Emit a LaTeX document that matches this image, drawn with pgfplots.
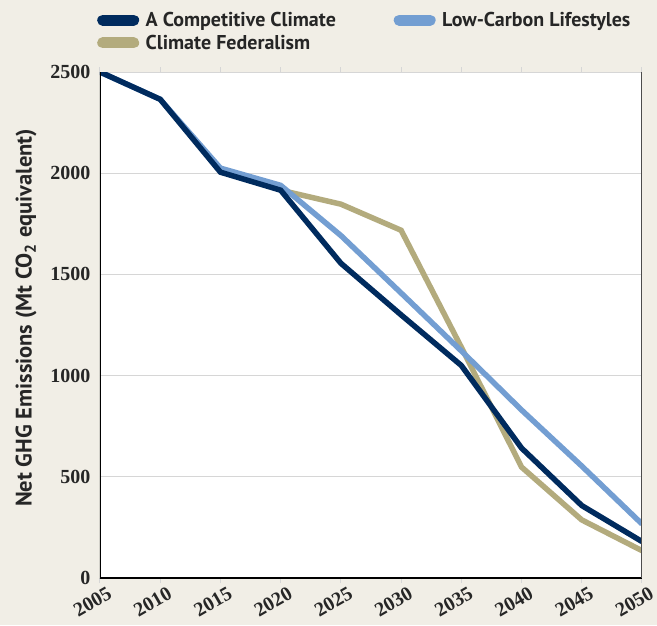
\documentclass[border=0pt]{standalone}
\usepackage{pgfplots}
\pgfplotsset{compat=1.18}
\usepackage{fontspec}
\setmainfont{Liberation Serif}
\newfontfamily\labfont{PT Sans}

\definecolor{bgcol}{RGB}{241,238,230}
\definecolor{navy}{RGB}{0,43,94}
\definecolor{lblue}{RGB}{115,158,210}
\definecolor{khaki}{RGB}{179,171,125}
\definecolor{gridcol}{RGB}{214,214,214}

\begin{document}
\begin{tikzpicture}
\fill[bgcol] (-100pt,-47pt) rectangle (557pt,578pt);
\begin{axis}[
    at={(0,0)}, anchor=south west,
    scale only axis,
    width=542pt, height=506pt,
    xmin=2005, xmax=2050,
    ymin=0, ymax=2500,
    xtick={2005,2010,...,2050},
    ytick={0,500,...,2500},
    axis background/.style={fill=white},
    axis line style={draw=none},
    ymajorgrids,
    grid style={gridcol, line width=1pt},
    tick align=outside,
    major tick length=5pt,
    xtick style={gridcol, line width=1pt},
    ytick style={draw=none},
    /pgf/number format/assume math mode=true,
    /pgf/number format/1000 sep={},
    tick label style={font=\fontsize{20}{22}\selectfont\bfseries, text=black!85},
    xticklabel style={rotate=30, anchor=north east, inner sep=1pt, yshift=-5pt, xshift=5pt},
    yticklabel style={xshift=-1pt},
    ylabel={\labfont\bfseries Net GHG Emissions (Mt CO\textsubscript{2} equivalent)},
    ylabel style={font=\fontsize{22.5}{24}\selectfont, text=black!85, yshift=7pt, xshift=7pt},
    legend columns=2,
    legend style={at={(rel axis cs:0,1)}, anchor=south west, yshift=17pt, xshift=-6pt,
        draw=none, fill=none, font=\fontsize{20}{24}\selectfont\labfont\bfseries,
        text=black!85, column sep=0pt, row sep=3pt},
    legend cell align=left,
    legend image code/.code={\draw[#1, line width=11pt, line cap=round] (5pt,0pt) -- (36pt,0pt);
        \path[draw=none] (0pt,0pt) -- (46pt,0pt);},
]
\addlegendimage{navy}
\addlegendentry{\makebox[246pt][l]{A Competitive Climate}}
\addlegendimage{lblue}
\addlegendentry{Low-Carbon Lifestyles}
\addlegendimage{khaki}
\addlegendentry{Climate Federalism}

\addplot[khaki, line width=5.5pt, forget plot] coordinates {
    (2020,1916) (2025,1847) (2030,1718) (2035,1140) (2040,548) (2045,287) (2050,135)
};
\addplot[lblue, line width=5.5pt, forget plot] coordinates {
    (2005,2500) (2010,2365) (2015,2025) (2020,1940) (2025,1692) (2030,1408) (2035,1122) (2040,830) (2045,553) (2050,267)
};
\addplot[navy, line width=5.5pt, forget plot] coordinates {
    (2005,2500) (2010,2365) (2015,2005) (2020,1916) (2025,1555) (2030,1300) (2035,1050) (2040,642) (2045,358) (2050,180)
};
\draw[black, line width=1.5pt] (rel axis cs:0,1) -- (rel axis cs:0,0) -- (rel axis cs:1,0);
\draw[black!70, line width=1.5pt] (rel axis cs:1,0) -- (rel axis cs:1,1);
\end{axis}
\end{tikzpicture}
\end{document}
